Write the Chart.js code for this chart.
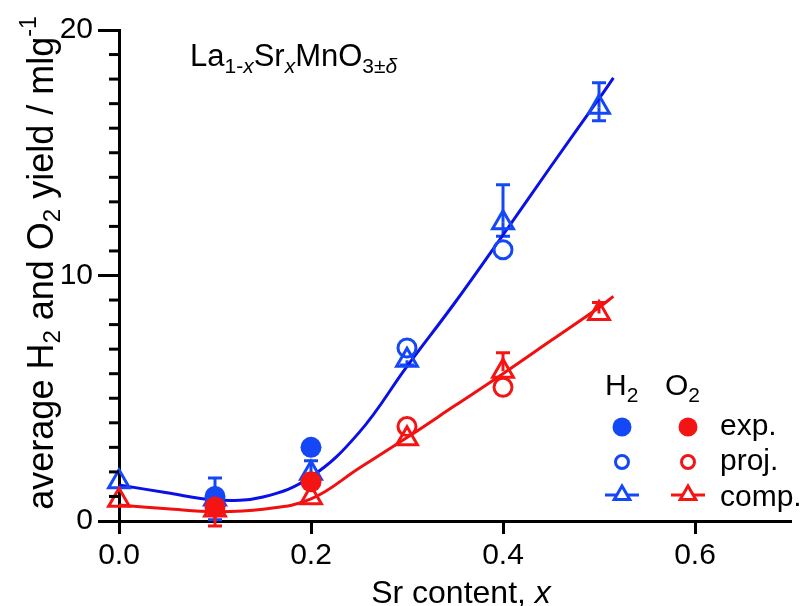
<!DOCTYPE html>
<html lang="en">
<head>
<meta charset="UTF-8" />
<title>La1-xSrxMnO3 H2 / O2 yield</title>
<script src="https://cdn.jsdelivr.net/npm/chart.js@4"></script>
<style>
  html, body { margin: 0; padding: 0; background: #fff; }
  #wrap { width: 806px; height: 606px; }
</style>
</head>
<body>
<div id="wrap"><canvas id="yieldChart" width="806" height="606"></canvas></div>
<script>
const FONT = '"Liberation Sans", Arial, Helvetica, sans-serif';
const BLUE = '#1447f5';
const BLUE_LINE = '#0a10e6';
const RED = '#f51414';
const RED_LINE = '#f01010';

// Sr content of the samples
const srContent = [0, 0.1, 0.2, 0.3, 0.4, 0.5];
const expX = [0.1, 0.2];
const projX = [0.3, 0.4];

// H2 yield, ml/g
const h2Exp = [1.0, 3.0];
const h2Proj = [7.05, 11.05];
const h2Comp = [1.6, 0.9, 1.95, 6.55, 12.15, 16.85];
const h2CompErrUp = [0, 0.85, 0.5, 0, 1.55, 1.0];
const h2CompErrDown = [0, 0.85, 0, 0.2, 0.55, 0.55];

// O2 yield, ml/g
const o2Exp = [0.57, 1.6];
const o2Proj = [3.85, 5.45];
const o2Comp = [0.85, 0.45, 0.95, 3.35, 6.1, 8.45];
const o2CompErrUp = [0, 0, 0, 0, 0.75, 0.45];
const o2CompErrDown = [0, 0.65, 0, 0, 0, 0];

// fitted curves
const fitX = [0, 0.05, 0.1, 0.15, 0.2, 0.25, 0.3, 0.35, 0.4, 0.45, 0.5, 0.515];
const h2Fit = [1.47, 1.15, 0.86, 0.98, 1.8, 3.6, 6.3, 8.9, 11.65, 14.45, 17.2, 18.05];
const o2Fit = [0.65, 0.5, 0.38, 0.48, 0.9, 2.15, 3.4, 4.7, 6.0, 7.35, 8.7, 9.15];

// axis ticks
const xTicks = [0, 0.2, 0.4, 0.6];
const yTicks = [0, 10, 20];

const pts = (xs, ys) => xs.map((x, i) => ({ x, y: ys[i] }));

function font(size, italic) {
  return (italic ? 'italic ' : '') + size + 'px ' + FONT;
}

// text made of runs with sub/superscripts
function richWidth(ctx, runs) {
  let w = 0;
  runs.forEach((r) => {
    ctx.font = font(r.size, r.italic);
    w += ctx.measureText(r.t).width;
  });
  return w;
}
function drawRich(ctx, runs, x, y) {
  runs.forEach((r) => {
    ctx.font = font(r.size, r.italic);
    ctx.fillText(r.t, x, y + (r.dy || 0));
    x += ctx.measureText(r.t).width;
  });
}

const errorBars = {
  id: 'errorBars',
  beforeDatasetsDraw(chart) {
    const { ctx, scales } = chart;
    const sets = [
      { ys: h2Comp, up: h2CompErrUp, down: h2CompErrDown, color: BLUE },
      { ys: o2Comp, up: o2CompErrUp, down: o2CompErrDown, color: RED },
    ];
    ctx.save();
    ctx.lineWidth = 3;
    sets.forEach((s) => {
      ctx.strokeStyle = s.color;
      srContent.forEach((x, i) => {
        const px = scales.x.getPixelForValue(x);
        const py = scales.y.getPixelForValue(s.ys[i]);
        [s.up[i], -s.down[i]].forEach((e) => {
          if (!e) return;
          const pe = scales.y.getPixelForValue(s.ys[i] + e);
          ctx.beginPath();
          ctx.moveTo(px, py);
          ctx.lineTo(px, pe);
          ctx.moveTo(px - 7, pe);
          ctx.lineTo(px + 7, pe);
          ctx.stroke();
        });
      });
    });
    ctx.restore();
  },
};

const decorations = {
  id: 'decorations',
  afterDraw(chart) {
    const { ctx, scales } = chart;
    const y = scales.y;
    const left = chart.chartArea.left;
    ctx.save();

    // minor ticks on the y axis
    ctx.strokeStyle = '#000';
    ctx.lineWidth = 3;
    for (let v = 1; v < 20; v++) {
      if (yTicks.includes(v)) continue;
      const py = y.getPixelForValue(v);
      ctx.beginPath();
      ctx.moveTo(left - 10, py);
      ctx.lineTo(left, py);
      ctx.stroke();
    }

    ctx.fillStyle = '#000';
    ctx.textBaseline = 'alphabetic';

    // y axis title, rotated
    const yTitle = [
      { t: 'average H', size: 36 },
      { t: '2', size: 24, dy: 7 },
      { t: ' and O', size: 36 },
      { t: '2', size: 24, dy: 7 },
      { t: ' yield / mlg', size: 36 },
      { t: '-1', size: 23, dy: -17 },
    ];
    ctx.save();
    ctx.translate(53, 263);
    ctx.rotate(-Math.PI / 2);
    drawRich(ctx, yTitle, -richWidth(ctx, yTitle) / 2, 0);
    ctx.restore();

    // x axis title
    const xTitle = [
      { t: 'Sr content, ', size: 32 },
      { t: 'x', size: 32, italic: true },
    ];
    drawRich(ctx, xTitle, 461 - richWidth(ctx, xTitle) / 2, 603);

    // compound label
    drawRich(ctx, [
      { t: 'La', size: 31 },
      { t: '1-', size: 21, dy: 7 },
      { t: 'x', size: 21, dy: 7, italic: true },
      { t: 'Sr', size: 31 },
      { t: 'x', size: 21, dy: 7, italic: true },
      { t: 'MnO', size: 31 },
      { t: '3±', size: 21, dy: 7 },
      { t: 'δ', size: 21, dy: 7, italic: true },
    ], 190, 66);

    // legend
    drawRich(ctx, [{ t: 'H', size: 30 }, { t: '2', size: 21, dy: 7 }], 605, 395);
    drawRich(ctx, [{ t: 'O', size: 30 }, { t: '2', size: 21, dy: 7 }], 665, 395);
    ctx.font = font(30);
    ctx.fillText('exp.', 720, 435);
    ctx.fillText('proj.', 720, 470);
    ctx.fillText('comp.', 720, 506);

    [[622, BLUE], [688, RED]].forEach(([cx, col]) => {
      ctx.fillStyle = col;
      ctx.strokeStyle = col;
      ctx.lineWidth = 3;
      ctx.beginPath();
      ctx.arc(cx, 427, 9.5, 0, Math.PI * 2);
      ctx.fill();
      ctx.beginPath();
      ctx.arc(cx, 462, 6.5, 0, Math.PI * 2);
      ctx.stroke();
      ctx.beginPath();
      ctx.moveTo(cx - 17, 495);
      ctx.lineTo(cx + 17, 495);
      ctx.stroke();
      const r = 9;
      ctx.beginPath();
      ctx.moveTo(cx, 495 - r);
      ctx.lineTo(cx + r * 0.866, 495 + r / 2);
      ctx.lineTo(cx - r * 0.866, 495 + r / 2);
      ctx.closePath();
      ctx.fillStyle = '#fff';
      ctx.fill();
      ctx.stroke();
    });
    ctx.restore();
  },
};

const filled = (label, data, color) => ({
  label, data, pointStyle: 'circle', pointRadius: 10.5,
  backgroundColor: color, borderColor: color, borderWidth: 0, clip: false,
});
const open = (label, data, color, style, radius) => ({
  label, data, pointStyle: style, pointRadius: radius,
  backgroundColor: 'transparent', borderColor: color, borderWidth: 3, clip: false,
});
const fit = (label, data, color) => ({
  label, data, showLine: true, pointRadius: 0, borderColor: color,
  borderWidth: 3, tension: 0.4, clip: false,
});

new Chart(document.getElementById('yieldChart'), {
  type: 'scatter',
  data: {
    datasets: [
      filled('O2 exp.', pts(expX, o2Exp), RED),
      filled('H2 exp.', pts(expX, h2Exp), BLUE),
      open('O2 proj.', pts(projX, o2Proj), RED, 'circle', 9),
      open('H2 proj.', pts(projX, h2Proj), BLUE, 'circle', 9),
      open('O2 comp.', pts(srContent, o2Comp), RED, 'triangle', 12),
      open('H2 comp.', pts(srContent, h2Comp), BLUE, 'triangle', 12),
      fit('O2 fit', pts(fitX, o2Fit), RED_LINE),
      fit('H2 fit', pts(fitX, h2Fit), BLUE_LINE),
    ],
  },
  options: {
    responsive: false,
    animation: false,
    layout: { padding: { top: 30, right: 1, left: 0, bottom: 0 } },
    plugins: { legend: { display: false }, tooltip: { enabled: false } },
    scales: {
      x: {
        type: 'linear',
        min: 0,
        max: 0.7,
        afterBuildTicks: (s) => { s.ticks = xTicks.map((v) => ({ value: v })); },
        afterFit: (s) => { s.height = 85; },
        border: { display: true, color: '#000', width: 3 },
        grid: { drawOnChartArea: false, drawTicks: true, tickLength: 13, tickWidth: 3, tickColor: '#000' },
        ticks: {
          color: '#000',
          font: { family: FONT, size: 30 },
          padding: 4,
          maxRotation: 0,
          callback: (v) => Number(v).toFixed(1),
        },
      },
      y: {
        type: 'linear',
        min: 0,
        max: 20,
        afterBuildTicks: (s) => {
          s.ticks = yTicks.map((v) => ({ value: v }));
        },
        afterFit: (s) => { s.width = 119; },
        border: { display: true, color: '#000', width: 3 },
        grid: { drawOnChartArea: false, drawTicks: true, tickLength: 21, tickWidth: 3, tickColor: '#000' },
        ticks: {
          color: '#000',
          font: { family: FONT, size: 30 },
          padding: 5,
        },
      },
    },
  },
  plugins: [errorBars, decorations],
});
</script>
</body>
</html>
